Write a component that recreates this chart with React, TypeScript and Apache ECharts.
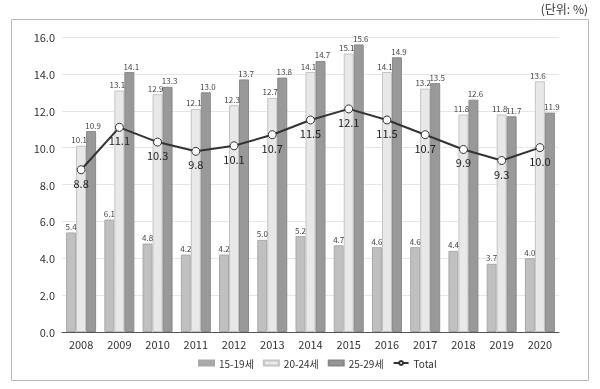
import React, { useEffect, useRef } from "react";
import * as echarts from "echarts";

const years = ["2008","2009","2010","2011","2012","2013","2014","2015","2016","2017","2018","2019","2020"];
const age1519 = [5.4, 6.1, 4.8, 4.2, 4.2, 5.0, 5.2, 4.7, 4.6, 4.6, 4.4, 3.7, 4.0];
const age2024 = [10.1, 13.1, 12.9, 12.1, 12.3, 12.7, 14.1, 15.1, 14.1, 13.2, 11.8, 11.8, 13.6];
const age2529 = [10.9, 14.1, 13.3, 13.0, 13.7, 13.8, 14.7, 15.6, 14.9, 13.5, 12.6, 11.7, 11.9];
const total = [8.8, 11.1, 10.3, 9.8, 10.1, 10.7, 11.5, 12.1, 11.5, 10.7, 9.9, 9.3, 10.0];

const FONT = "Noto Sans CJK KR";

export default function App() {
  const ref = useRef<HTMLDivElement>(null);
  useEffect(() => {
    if (!ref.current) return;
    const chart = echarts.init(ref.current, undefined, { renderer: "svg" });
    const barLabel = (dx: number) => ({
      show: true,
      position: "top" as const,
      distance: 2,
      offset: [dx, 0],
      fontSize: 8,
      color: "#444",
      fontFamily: FONT,
      formatter: (p: any) => Number(p.value).toFixed(1),
    });
    chart.setOption({
      animation: false,
      textStyle: { fontFamily: FONT },
      graphic: [
        {
          type: "rect",
          shape: { x: 11.5, y: 19.5, width: 577, height: 361 },
          style: { fill: "none", stroke: "#b8b8b8", lineWidth: 1 },
          silent: true,
        },
        {
          type: "text",
          right: 12,
          top: 2,
          style: { text: "(단위: %)", fontSize: 12, fill: "#333", fontFamily: FONT },
        },
      ],
      grid: { left: 62, right: 41, top: 37, bottom: 57 },
      legend: {
        bottom: 16,
        left: 193,
        itemWidth: 15,
        itemHeight: 5,
        itemGap: 9,
        textStyle: { fontSize: 10, color: "#333", fontFamily: FONT, width: 36, overflow: "none" },
        data: [
          { name: "15-19세", icon: "rect", itemStyle: { color: "#aaaaaa" } },
          { name: "20-24세", icon: "rect" },
          { name: "25-29세", icon: "rect" },
          { name: "Total" },
        ],
      },
      xAxis: {
        type: "category",
        data: years,
        axisLine: { lineStyle: { color: "#555" } },
        axisTick: { show: false },
        axisLabel: { fontSize: 11, color: "#333", margin: 6, fontFamily: FONT },
      },
      yAxis: {
        type: "value",
        min: 0,
        max: 16,
        interval: 2,
        axisLine: { show: false },
        axisTick: { show: false },
        axisLabel: { fontSize: 11, color: "#333", formatter: (v: number) => v.toFixed(1), margin: 7, fontFamily: FONT },
        splitLine: { lineStyle: { color: "#e6e6e6" } },
      },
      series: [
        {
          name: "15-19세",
          type: "bar",
          data: age1519,
          barWidth: 10,
          barGap: "0%",
          itemStyle: { color: "#c0c0c0", borderColor: "#a8a8a8", borderWidth: 1 },
          label: barLabel(0),
        },
        {
          name: "20-24세",
          type: "bar",
          data: age2024,
          barWidth: 10,
          barGap: "0%",
          itemStyle: { color: "#e8e8e8", borderColor: "#c4c4c4", borderWidth: 1 },
          label: barLabel(-2),
        },
        {
          name: "25-29세",
          type: "bar",
          data: age2529,
          barWidth: 10,
          barGap: "0%",
          itemStyle: { color: "#999999", borderColor: "#8a8a8a", borderWidth: 1 },
          label: barLabel(2),
        },
        {
          name: "Total",
          type: "line",
          data: total,
          symbol: "circle",
          symbolSize: 8,
          z: 5,
          lineStyle: { color: "#333", width: 2 },
          itemStyle: { color: "#fff", borderColor: "#333", borderWidth: 1 },
          label: {
            show: true,
            position: "bottom",
            distance: 3,
            fontSize: 11,
            color: "#222",
            fontFamily: FONT,
            formatter: (p: any) => Number(p.value).toFixed(1),
          },
        },
      ],
    });
    return () => chart.dispose();
  }, []);
  return <div ref={ref} style={{ position: "fixed", left: 0, top: 0, width: 600, height: 389 }} />;
}
